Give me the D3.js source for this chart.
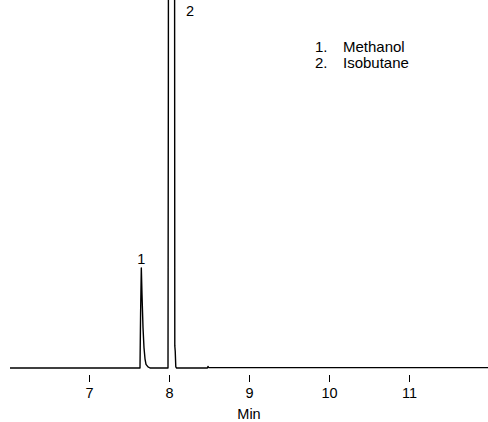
<!DOCTYPE html>
<html>
<head>
<meta charset="utf-8">
<script src="https://cdn.jsdelivr.net/npm/d3@7"></script>
<style>
  html, body { margin: 0; padding: 0; background: #fff; }
  svg { display: block; }
  text { font-family: "Liberation Sans", Arial, sans-serif; fill: #000; }
</style>
</head>
<body>
<svg id="chart" width="488" height="422"></svg>
<script>
// Retention time (min) and detector signal (arbitrary units)
const times   = [6.0125, 7.6375, 7.645, 7.654, 7.6625, 7.675, 7.6875, 7.70, 7.7125, 7.7375, 7.7625,
                 7.9875, 7.992, 7.997, 8.002, 8.065, 8.0725, 8.078, 8.085, 8.095,
                 8.48, 8.487, 8.494, 8.50, 11.99];
const signal  = [0, 0, 150, 272, 200, 110, 55, 25, 10, 3, 0,
                 0, 780, 3000, 3000, 3000, 60, 45, 3, 0,
                 0, 4, 2, 1, 1];
const xTicks  = [7, 8, 9, 10, 11];
const peakLabels = [{t: 7.654, v: 272, label: "1"}, {t: 8.10, v: 960, label: "2"}];
const legendItems = ["1.", "2."];
const legendNames = ["Methanol", "Isobutane"];
const xTitle = "Min";

const svg = d3.select("#chart");
const x = d3.scaleLinear().domain([6, 12]).range([9, 489]);
const y = d3.scaleLinear().domain([0, 1000]).range([368, 0]);

svg.append("clipPath").attr("id", "clip")
  .append("rect").attr("x", 0).attr("y", 0).attr("width", 488).attr("height", 380);

const data = times.map((t, i) => ({t, v: signal[i]}));
svg.append("path")
  .datum(data)
  .attr("clip-path", "url(#clip)")
  .attr("fill", "none")
  .attr("stroke", "#000")
  .attr("stroke-width", 1.4)
  .attr("stroke-linejoin", "round")
  .attr("d", d3.line().x(d => x(d.t)).y(d => y(d.v)));

// axis (tick marks + labels only)
const ax = svg.append("g").attr("transform", "translate(0,375)")
  .call(d3.axisBottom(x).tickValues(xTicks).tickSize(7).tickPadding(6).tickFormat(d3.format("d")));
ax.select(".domain").remove();
ax.selectAll(".tick line").attr("stroke", "#000").attr("stroke-width", 1);
ax.selectAll(".tick text").attr("font-size", 14.5).attr("font-family", "Liberation Sans, Arial, sans-serif");

svg.append("text").attr("x", x(9)).attr("y", 419).attr("text-anchor", "middle")
  .attr("font-size", 14.5).text(xTitle);

// peak labels
svg.append("text").attr("x", x(peakLabels[0].t)).attr("y", 264).attr("text-anchor", "middle")
  .attr("font-size", 14.5).text(peakLabels[0].label);
svg.append("text").attr("x", 190).attr("y", 16).attr("text-anchor", "middle")
  .attr("font-size", 14.5).text(peakLabels[1].label);

// legend
const lg = svg.append("g");
legendItems.forEach((n, i) => {
  lg.append("text").attr("x", 315).attr("y", 51.5 + i * 16).attr("font-size", 15).text(n);
  lg.append("text").attr("x", 343).attr("y", 51.5 + i * 16).attr("font-size", 15).text(legendNames[i]);
});
</script>
</body>
</html>
